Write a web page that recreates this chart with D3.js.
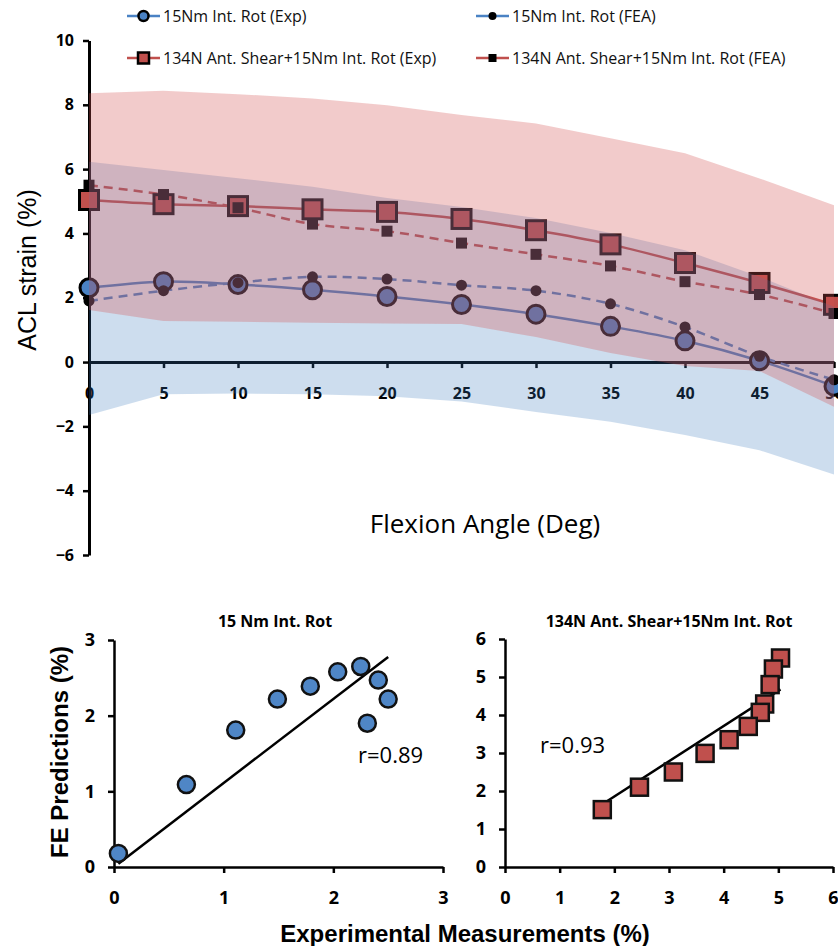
<!DOCTYPE html>
<html>
<head>
<meta charset="utf-8">
<script src="https://cdn.jsdelivr.net/npm/d3@7"></script>
<style>
  body { margin: 0; background: #fff; }
  svg { display: block; }
  .axis path, .axis line { stroke: #000; }
  .axis text { fill: #000; font-family: "Open Sans", sans-serif; font-weight: bold; }
</style>
</head>
<body>
<div id="chart"></div>
<script>
// flexion angles (deg)
var angles = [0, 5, 10, 15, 20, 25, 30, 35, 40, 45, 50];
// ACL strain (%) - 15Nm internal rotation
var rotExp = [2.31, 2.5, 2.41, 2.25, 2.04, 1.79, 1.49, 1.11, 0.66, 0.04, -0.75];
var rotFea = [1.9, 2.22, 2.47, 2.65, 2.58, 2.39, 2.22, 1.81, 1.09, 0.18, -0.55];
var rotUpper = [6.23, 5.97, 5.72, 5.45, 5.1, 4.82, 4.48, 4.01, 3.48, 2.65, 1.72];
var rotLower = [-1.65, -1.0, -0.98, -1.0, -1.06, -1.23, -1.55, -1.86, -2.27, -2.74, -3.5];
// ACL strain (%) - 134N anterior shear + 15Nm internal rotation
var shearExp = [5.04, 4.91, 4.85, 4.75, 4.67, 4.45, 4.1, 3.66, 3.08, 2.46, 1.78];
var shearFea = [5.5, 5.21, 4.8, 4.29, 4.07, 3.7, 3.35, 2.99, 2.5, 2.1, 1.51];
var shearUpper = [8.36, 8.44, 8.33, 8.2, 7.99, 7.68, 7.42, 6.96, 6.49, 5.71, 4.88];
var shearLower = [1.62, 1.28, 1.25, 1.22, 1.2, 1.18, 0.78, 0.28, -0.12, -0.28, -1.39];

var yTicksTop = [-6, -4, -2, 0, 2, 4, 6, 8, 10];
var legendLabels = ["15Nm Int. Rot (Exp)", "15Nm Int. Rot (FEA)",
                    "134N Ant. Shear+15Nm Int. Rot (Exp)", "134N Ant. Shear+15Nm Int. Rot (FEA)"];

var blue = "#4a82c4", red = "#c0504d";

var svg = d3.select("#chart").append("svg")
    .attr("width", 838)
    .attr("height", 946);

// ---------- top chart ----------
var x = d3.scaleLinear().domain([0, 50]).range([89, 834]);
var y = d3.scaleLinear().domain([-6, 10]).range([555, 40.5]);

var yAx = svg.append("g").attr("class", "axis")
    .attr("transform", "translate(89,0)")
    .call(d3.axisLeft(y).tickValues(yTicksTop).tickSize(6).tickSizeOuter(0).tickPadding(9));
yAx.select(".domain").attr("stroke-width", 3);
yAx.selectAll(".tick line").attr("stroke-width", 2.5);
yAx.selectAll("text").style("font-size", "16px");

var xAx = svg.append("g").attr("class", "axis")
    .attr("transform", "translate(0," + y(0) + ")")
    .call(d3.axisBottom(x).tickValues(angles).tickSize(6).tickSizeOuter(0).tickPadding(20));
xAx.select(".domain").attr("stroke-width", 3);
xAx.selectAll(".tick line").attr("stroke-width", 2.5);
xAx.selectAll("text").style("font-size", "16px");

svg.append("text")
    .attr("x", 485).attr("y", 533)
    .attr("text-anchor", "middle")
    .style("font-family", "'Open Sans', sans-serif")
    .style("font-size", "26px")
    .text("Flexion Angle (Deg)");

svg.append("text")
    .attr("transform", "translate(36,270) rotate(-90)")
    .attr("text-anchor", "middle")
    .style("font-family", "'Liberation Sans', Arial, sans-serif")
    .style("font-size", "25px")
    .text("ACL strain (%)");

function pts(vals) {
    return angles.map(function (a, i) { return [a, vals[i]]; });
}
var smooth = d3.line()
    .x(function (d) { return x(d[0]); })
    .y(function (d) { return y(d[1]); })
    .curve(d3.curveCatmullRom);

// lines
svg.append("path").attr("d", smooth(pts(rotFea))).attr("fill", "none")
    .attr("stroke", blue).attr("stroke-width", 2.5).attr("stroke-dasharray", "9,6");
svg.append("path").attr("d", smooth(pts(shearFea))).attr("fill", "none")
    .attr("stroke", red).attr("stroke-width", 2.5).attr("stroke-dasharray", "9,6");
svg.append("path").attr("d", smooth(pts(rotExp))).attr("fill", "none")
    .attr("stroke", blue).attr("stroke-width", 2.5);
svg.append("path").attr("d", smooth(pts(shearExp))).attr("fill", "none")
    .attr("stroke", red).attr("stroke-width", 2.5);

// markers
svg.selectAll(".rotExp").data(pts(rotExp)).enter().append("circle")
    .attr("cx", function (d) { return x(d[0]); })
    .attr("cy", function (d) { return y(d[1]); })
    .attr("r", 9).attr("fill", blue).attr("stroke", "#000").attr("stroke-width", 3);
svg.selectAll(".shearExp").data(pts(shearExp)).enter().append("rect")
    .attr("x", function (d) { return x(d[0]) - 9.5; })
    .attr("y", function (d) { return y(d[1]) - 9.5; })
    .attr("width", 19).attr("height", 19)
    .attr("fill", red).attr("stroke", "#000").attr("stroke-width", 3);
svg.selectAll(".rotFea").data(pts(rotFea)).enter().append("circle")
    .attr("cx", function (d) { return x(d[0]); })
    .attr("cy", function (d) { return y(d[1]); })
    .attr("r", 5.5).attr("fill", "#000");
svg.selectAll(".shearFea").data(pts(shearFea)).enter().append("rect")
    .attr("x", function (d) { return x(d[0]) - 5.5; })
    .attr("y", function (d) { return y(d[1]) - 5.5; })
    .attr("width", 11).attr("height", 11).attr("fill", "#000");

// SD bands drawn over everything, semi transparent
var band = d3.area()
    .x(function (d) { return x(d.a); })
    .y0(function (d) { return y(d.lo); })
    .y1(function (d) { return y(d.hi); });
svg.append("path")
    .attr("d", band(angles.map(function (a, i) { return { a: a, lo: rotLower[i], hi: rotUpper[i] }; })))
    .attr("fill", "rgb(56,120,188)").attr("fill-opacity", 0.25);
svg.append("path")
    .attr("d", band(angles.map(function (a, i) { return { a: a, lo: shearLower[i], hi: shearUpper[i] }; })))
    .attr("fill", "rgb(212,82,82)").attr("fill-opacity", 0.3);

// legend
var legendPos = [[127, 16], [476, 16], [127, 58], [476, 58]];
legendLabels.forEach(function (lab, i) {
    var g = svg.append("g").attr("transform", "translate(" + legendPos[i][0] + "," + legendPos[i][1] + ")");
    var col = i < 2 ? blue : red;
    g.append("line").attr("x1", 0).attr("x2", 33).attr("stroke", col).attr("stroke-width", 2.5);
    if (i === 0) g.append("circle").attr("cx", 16.5).attr("r", 5).attr("fill", blue).attr("stroke", "#000").attr("stroke-width", 2.5);
    if (i === 1) g.append("circle").attr("cx", 16.5).attr("r", 4).attr("fill", "#000");
    if (i === 2) g.append("rect").attr("x", 11).attr("y", -5.5).attr("width", 11).attr("height", 11).attr("fill", red).attr("stroke", "#000").attr("stroke-width", 2.5);
    if (i === 3) g.append("rect").attr("x", 12.5).attr("y", -4).attr("width", 8).attr("height", 8).attr("fill", "#000");
    g.append("text").attr("x", 36).attr("y", 5.5)
        .style("font-family", "'Open Sans', sans-serif").style("font-size", "16px")
        .attr("fill", "#111").text(lab);
});

// ---------- scatter plots ----------
function originFit(xs, ys) {
    var sxy = d3.sum(xs, function (v, i) { return v * ys[i]; });
    var sxx = d3.sum(xs, function (v) { return v * v; });
    return sxy / sxx;
}

function scatter(opt) {
    var sx = d3.scaleLinear().domain([0, opt.max]).range(opt.xr);
    var sy = d3.scaleLinear().domain([0, opt.max]).range(opt.yr);
    var ax = svg.append("g").attr("class", "axis")
        .attr("transform", "translate(0," + opt.yr[0] + ")")
        .call(d3.axisBottom(sx).ticks(opt.max).tickSize(6).tickSizeOuter(0).tickPadding(18));
    var ay = svg.append("g").attr("class", "axis")
        .attr("transform", "translate(" + opt.xr[0] + ",0)")
        .call(d3.axisLeft(sy).ticks(opt.max).tickSize(6).tickSizeOuter(0).tickPadding(13));
    [ax, ay].forEach(function (a) {
        a.select(".domain").attr("stroke-width", 2.5);
        a.selectAll(".tick line").attr("stroke-width", 2.5);
        a.selectAll("text").style("font-size", "18px");
    });

    svg.append("text")
        .attr("x", opt.titleX).attr("y", 627)
        .attr("text-anchor", "middle")
        .style("font-family", "'Open Sans', sans-serif").style("font-weight", "bold")
        .style("font-size", "16px")
        .text(opt.title);

    var k = originFit(opt.xs, opt.ys);
    var x0 = d3.min(opt.xs), x1 = d3.max(opt.xs);
    svg.append("line")
        .attr("x1", sx(x0)).attr("y1", sy(k * x0))
        .attr("x2", sx(x1)).attr("y2", sy(k * x1))
        .attr("stroke", "#000").attr("stroke-width", 2.5);

    var data = opt.xs.map(function (v, i) { return [v, opt.ys[i]]; });
    if (opt.shape === "circle") {
        svg.selectAll(null).data(data).enter().append("circle")
            .attr("cx", function (d) { return sx(d[0]); })
            .attr("cy", function (d) { return sy(d[1]); })
            .attr("r", 8.5).attr("fill", "#4f86c6").attr("stroke", "#111").attr("stroke-width", 2.5);
    } else {
        svg.selectAll(null).data(data).enter().append("rect")
            .attr("x", function (d) { return sx(d[0]) - 8.5; })
            .attr("y", function (d) { return sy(d[1]) - 8.5; })
            .attr("width", 17).attr("height", 17)
            .attr("fill", "#c0504d").attr("stroke", "#111").attr("stroke-width", 2.5);
    }

    svg.append("text")
        .attr("x", opt.rX).attr("y", opt.rY)
        .style("font-family", "'Open Sans', sans-serif").style("font-size", "22px")
        .text(opt.r);
}

scatter({
    max: 3, xr: [114, 443], yr: [867, 640],
    xs: rotExp.slice(0, 10), ys: rotFea.slice(0, 10),
    shape: "circle", title: "15 Nm Int. Rot", titleX: 275,
    r: "r=0.89", rX: 358, rY: 763
});
scatter({
    max: 6, xr: [505, 833], yr: [867, 639],
    xs: shearExp, ys: shearFea,
    shape: "square", title: "134N Ant. Shear+15Nm Int. Rot", titleX: 669,
    r: "r=0.93", rX: 540, rY: 753
});

svg.append("text")
    .attr("x", 465).attr("y", 942)
    .attr("text-anchor", "middle")
    .style("font-family", "'Liberation Sans', Arial, sans-serif")
    .style("font-weight", "bold").style("font-size", "24px")
    .text("Experimental Measurements (%)");

svg.append("text")
    .attr("transform", "translate(68,752) rotate(-90)")
    .attr("text-anchor", "middle")
    .style("font-family", "'Liberation Sans', Arial, sans-serif")
    .style("font-weight", "bold").style("font-size", "24px")
    .text("FE Predictions (%)");
</script>
</body>
</html>
